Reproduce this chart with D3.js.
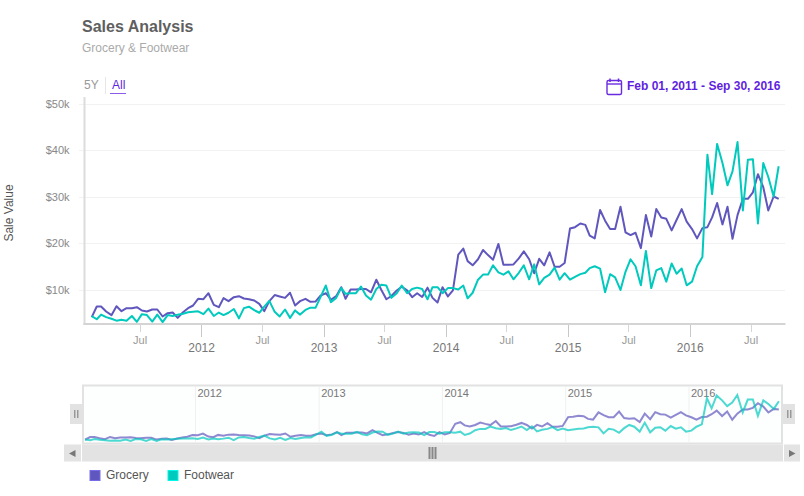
<!DOCTYPE html>
<html>
<head>
<meta charset="UTF-8">
<title>Sales Analysis</title>
<style>
  html, body { margin: 0; padding: 0; background: #fff; }
  svg { display: block; font-family: "Liberation Sans", Arial, sans-serif; }
  .tick line { shape-rendering: crispEdges; }
</style>
</head>
<body>
<svg id="chart" width="804" height="496"></svg>
<script src="https://cdnjs.cloudflare.com/ajax/libs/d3/7.8.5/d3.min.js"></script>
<script>
// sale value per half month, thousands of dollars, Feb 2011 - Sep 2016
var grocery = [
  4.05,6.34,6.34,5.27,4.48,6.4,5.34,5.98,5.98,6.2,5.48,5.27,5.7,5.7,4.19,4.91,5.05,3.9,5.12,5.98,6.56,8.0,7.92,9.2,6.7,6.2,8.14,7.5,8.35,8.56,8.06,7.92,7.63,6.9,5.34,7.5,8.8,8.5,8.2,9.3,6.56,7.5,8.0,7.35,7.4,8.7,9.2,
  7.8,8.56,10.5,8.0,10,10,10.1,10.1,9.4,12.1,9.9,7.9,8.6,9.8,10.6,9.8,8.35,9.2,8.4,10.4,8.2,7.2,10.5,8.5,9.8,17.5,18.8,16.1,15.2,16.5,18.5,17.4,16.4,19.8,15.3,15.3,15.4,16.7,18.2,16.5,13.5,16.6,15.2,18.0,14.9,14.9,15.7,
  23.1,23.4,24.2,23.9,21.6,21.0,27.1,24.8,23.0,23.0,27.8,22.3,21.7,22.2,18.9,26.0,21.4,27.3,25.5,25.2,22.7,25.0,27.3,24.6,23.0,21.0,23.2,23.4,25.5,28.6,24.0,27.8,20.9,26.0,29.5,29.5,30.9,34.8,32.0,27.0,30.0,29.5
];
var footwear = [
  4.26,3.6,4.6,4.05,3.7,3.3,3.5,3.26,4.3,3.05,4.7,4.5,3.1,4.6,3.0,4.5,4.3,4.55,4.8,5.1,5.2,5.3,4.7,5.9,4.3,5.05,4.5,5.0,5.8,3.8,6.0,6.3,5.55,5.0,6.3,7.55,5.2,4.2,5.7,3.9,5.5,4.6,5.6,6.1,6.05,8.35,10.86,
  7.28,8.2,10.36,9.07,9.2,9.2,10.65,8.7,7.8,10.1,11.0,10.86,8.2,9.2,10.86,9.2,10.1,10.4,10.1,7.9,10.5,10.5,9.2,10.3,10.3,10,10.86,8.1,9.3,12.1,13.2,13.2,15.2,13.7,13.2,13.9,12.2,13.6,15.2,12.2,15.4,11.1,12.5,13.2,14.7,12.1,13.5,12.1,
  12.7,13.3,13.6,14.6,15.0,14.5,9.4,13.3,12.6,9.9,13.8,16.5,15.0,10.9,18.3,10.3,14.1,14.6,11.7,15.6,13.4,14.5,10.9,11.7,15.0,17.0,39.0,30.5,41.3,37.2,32.4,35.4,41.7,27.0,37.9,38.0,24.2,37.2,34.2,30.0,36.5
];
var valueTicks = [10, 20, 30, 40, 50];
var yearTicks = [2012, 2013, 2014, 2015, 2016];
var julyTicks = [2011, 2012, 2013, 2014, 2015, 2016];
var seriesNames = ['Grocery', 'Footwear'];
var seriesColors = ['#5f57bd', '#00c9bd'];

// each point sits in the middle of its half month bin
var dates = grocery.map(function(d, i) {
  return new Date(2011, 1 + Math.floor(i / 2), i % 2 ? 23 : 8);
});
var series = [grocery, footwear];

var svg = d3.select('#chart');
var startDate = new Date(2011, 1, 1), endDate = new Date(2016, 8, 30);

var x = d3.scaleTime().domain([startDate, endDate]).range([89.4, 781]);
var y = d3.scaleLinear().domain([0, 50]).range([336, 103.5]);
var navX = d3.scaleTime().domain([new Date(2012, 0, 1), new Date(2016, 0, 1)]).range([195.5, 689]);
var navY = d3.scaleLinear().domain([3, 41.7]).range([441, 395]);

// titles
svg.append('text').attr('x', 82).attr('y', 32).attr('font-size', 16).attr('font-weight', 'bold')
  .attr('fill', '#5f5f5f').text('Sales Analysis');
svg.append('text').attr('x', 82).attr('y', 52).attr('font-size', 12)
  .attr('fill', '#aaaaaa').text('Grocery & Footwear');

// range buttons
svg.append('text').attr('x', 84).attr('y', 89).attr('font-size', 12).attr('fill', '#999').text('5Y');
svg.append('rect').attr('x', 105).attr('y', 77).attr('width', 1).attr('height', 17).attr('fill', '#e6e6e6');
svg.append('text').attr('x', 112).attr('y', 89).attr('font-size', 12).attr('fill', '#5f1fe0').text('All');
svg.append('rect').attr('x', 110).attr('y', 93).attr('width', 16).attr('height', 1).attr('fill', '#8a5ce8');

// date range with calendar icon
var cal = svg.append('g').attr('fill', 'none').attr('stroke', '#6a2be0');
cal.append('rect').attr('x', 607).attr('y', 80.5).attr('width', 14.5).attr('height', 14).attr('rx', 1.5).attr('stroke-width', 1.4);
cal.append('line').attr('x1', 607).attr('x2', 621.5).attr('y1', 84).attr('y2', 84).attr('stroke-width', 1.4);
cal.append('line').attr('x1', 610).attr('x2', 610).attr('y1', 78.5).attr('y2', 82).attr('stroke-width', 1.5);
cal.append('line').attr('x1', 618.5).attr('x2', 618.5).attr('y1', 78.5).attr('y2', 82).attr('stroke-width', 1.5);
svg.append('text').attr('x', 627).attr('y', 90).attr('font-size', 12).attr('font-weight', 'bold')
  .attr('fill', '#5f1fe0').text('Feb 01, 2011 - Sep 30, 2016');

// y axis with grid
var yAxis = svg.append('g').attr('transform', 'translate(84.5,0)')
  .call(d3.axisLeft(y).tickValues(valueTicks).tickSize(6)
    .tickFormat(function(d) { return '$' + d + 'k'; }));
yAxis.select('.domain').remove();
yAxis.selectAll('.tick line').attr('x1', -6).attr('x2', 700.5).attr('stroke', '#f2f2f2').attr('stroke-width', 1);
yAxis.selectAll('.tick text').attr('x', -15).attr('font-size', 11).attr('fill', '#888')
  .attr('font-family', 'inherit');

svg.append('text').attr('transform', 'translate(13,213) rotate(-90)').attr('text-anchor', 'middle')
  .attr('font-size', 12).attr('fill', '#555').text('Sale Value');

// x axis, July ticks and year ticks
var julyDates = julyTicks.map(function(d) { return new Date(d, 6, 1); });
var yearDates = yearTicks.map(function(d) { return new Date(d, 0, 1); });

var julyAxis = svg.append('g').attr('transform', 'translate(0,324)')
  .call(d3.axisBottom(x).tickValues(julyDates).tickSize(8).tickPadding(4).tickFormat(function() { return 'Jul'; }));
julyAxis.select('.domain').remove();
julyAxis.selectAll('.tick line').attr('stroke', '#d6d6d6');
julyAxis.selectAll('.tick text').attr('font-size', 11).attr('fill', '#999').attr('font-family', 'inherit');

var yearAxis = svg.append('g').attr('transform', 'translate(0,324)')
  .call(d3.axisBottom(x).tickValues(yearDates).tickSize(13).tickPadding(6).tickFormat(d3.timeFormat('%Y')));
yearAxis.select('.domain').remove();
yearAxis.selectAll('.tick line').attr('stroke', '#c8c8c8');
yearAxis.selectAll('.tick text').attr('font-size', 12).attr('fill', '#777').attr('font-family', 'inherit');

// plot frame
svg.append('rect').attr('x', 83.5).attr('y', 97).attr('width', 2).attr('height', 228).attr('fill', '#dcdcdc');
svg.append('rect').attr('x', 83.5).attr('y', 323).attr('width', 702).attr('height', 2).attr('fill', '#d4d4d4');

// main lines
var line = d3.line()
  .x(function(d, i) { return x(dates[i]); })
  .y(function(d) { return y(d); });

svg.selectAll('path.main').data(series).enter().append('path')
  .attr('class', 'main')
  .attr('d', line)
  .attr('fill', 'none')
  .attr('stroke', function(d, i) { return seriesColors[i]; })
  .attr('stroke-width', 2)
  .attr('stroke-linejoin', 'round');

// navigator
svg.append('rect').attr('x', 83).attr('y', 385.5).attr('width', 699).attr('height', 58)
  .attr('fill', '#fdfefe').attr('stroke', '#e2e2e2').attr('stroke-width', 2);

var navTicks = svg.selectAll('g.navtick').data(yearDates).enter().append('g').attr('class', 'navtick')
  .attr('transform', function(d) { return 'translate(' + navX(d) + ',0)'; });
navTicks.append('line').attr('y1', 387).attr('y2', 443).attr('stroke', '#f0f0f0');
navTicks.append('text').attr('x', 2).attr('y', 397).attr('font-size', 11).attr('fill', '#777')
  .text(function(d) { return d.getFullYear(); });

var navLine = d3.line()
  .x(function(d, i) { return navX(dates[i]); })
  .y(function(d) { return navY(d); });

svg.selectAll('path.nav').data(series).enter().append('path')
  .attr('class', 'nav')
  .attr('d', navLine)
  .attr('fill', 'none')
  .attr('stroke', function(d, i) { return seriesColors[i]; })
  .attr('stroke-opacity', 0.7)
  .attr('stroke-width', 2);

// navigator handles
[70, 783].forEach(function(hx) {
  svg.append('rect').attr('x', hx).attr('y', 404).attr('width', 12).attr('height', 20).attr('fill', '#e2e2e2');
  svg.append('rect').attr('x', hx + 4).attr('y', 410).attr('width', 1.5).attr('height', 8).attr('fill', '#999');
  svg.append('rect').attr('x', hx + 7).attr('y', 410).attr('width', 1.5).attr('height', 8).attr('fill', '#999');
});

// scrollbar
svg.append('rect').attr('x', 64).attr('y', 444.5).attr('width', 736).attr('height', 17).attr('fill', '#e3e3e3');
svg.append('rect').attr('x', 81).attr('y', 444.5).attr('width', 1).attr('height', 17).attr('fill', '#fff');
svg.append('rect').attr('x', 783).attr('y', 444.5).attr('width', 1).attr('height', 17).attr('fill', '#fff');
svg.append('path').attr('d', 'M69 453.5L75.5 450V457Z').attr('fill', '#777');
svg.append('path').attr('d', 'M795.5 453.5L789 450V457Z').attr('fill', '#777');
[428.5, 431.5, 434.5].forEach(function(gx) {
  svg.append('rect').attr('x', gx).attr('y', 447).attr('width', 2).attr('height', 12).attr('fill', '#888');
});

// legend
var legendX = [89.5, 167.5];
var legend = svg.selectAll('g.legend').data(seriesNames).enter().append('g').attr('class', 'legend')
  .attr('transform', function(d, i) { return 'translate(' + legendX[i] + ',470)'; });
legend.append('rect').attr('width', 10).attr('height', 10).attr('x', 0.5).attr('y', 0.5)
  .attr('fill', function(d, i) { return seriesColors[i]; })
  .attr('stroke', function(d, i) { return d3.color(seriesColors[i]).brighter(0.6); });
legend.append('text').attr('x', 16.5).attr('y', 9).attr('font-size', 12).attr('fill', '#555')
  .text(function(d) { return d; });
</script>
</body>
</html>
